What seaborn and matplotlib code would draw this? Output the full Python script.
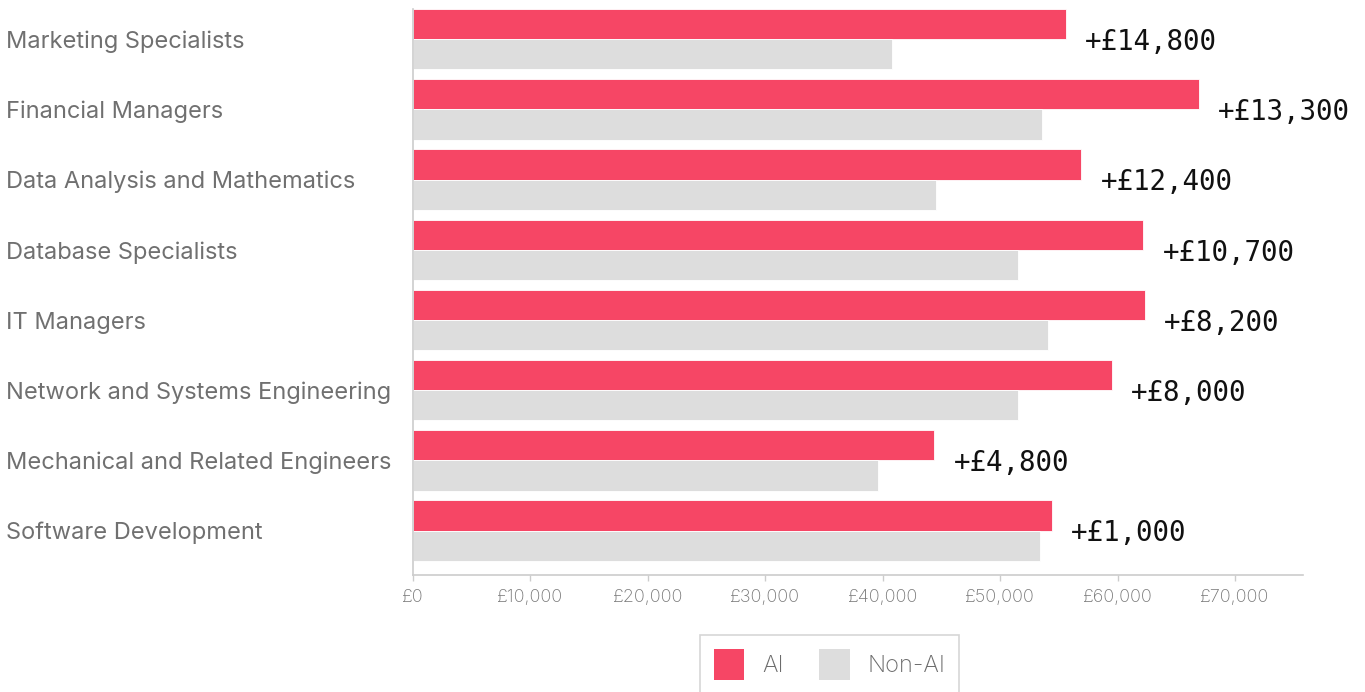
import matplotlib
matplotlib.use("Agg")
import matplotlib.pyplot as plt
import matplotlib.ticker as mticker
from matplotlib.patches import Patch
import seaborn as sns
import pandas as pd

# Average advertised salaries by occupation, AI vs non-AI roles
occupations = [
    "Marketing Specialists",
    "Financial Managers",
    "Data Analysis and Mathematics",
    "Database Specialists",
    "IT Managers",
    "Network and Systems Engineering",
    "Mechanical and Related Engineers",
    "Software Development",
]
ai_salary = [55600, 66900, 56900, 62200, 62300, 59500, 44400, 54400]
non_ai_salary = [40800, 53600, 44500, 51500, 54100, 51500, 39600, 53400]
premium_labels = ["+£14,800", "+£13,300", "+£12,400", "+£10,700",
                  "+£8,200", "+£8,000", "+£4,800", "+£1,000"]
x_ticks = [0, 10000, 20000, 30000, 40000, 50000, 60000, 70000]
series = ["AI", "Non-AI"]
colors = {"AI": "#F64665", "Non-AI": "#DDDDDD"}

df = pd.DataFrame({
    "Occupation": occupations * 2,
    "Salary": ai_salary + non_ai_salary,
    "Type": ["AI"] * len(occupations) + ["Non-AI"] * len(occupations),
})

sns.set_theme(style="white")
plt.rcParams["font.family"] = ["Inter", "DejaVu Sans"]

fig = plt.figure(figsize=(13.65, 6.92), dpi=100)
ax = fig.add_axes([0.3026, 0.169, 0.6520, 0.818])

sns.barplot(data=df, y="Occupation", x="Salary", hue="Type",
            order=occupations, hue_order=series, palette=colors,
            width=0.86, orient="h", ax=ax, legend=False,
            saturation=1, linewidth=0, errorbar=None)

for b in ax.patches:
    b.set_edgecolor("white")
    b.set_linewidth(0.6)

ax.set_xlim(0, 75800)
ax.set_ylim(7.633, -0.43)
ax.set_xlabel("")
ax.set_ylabel("")

ax.xaxis.set_major_locator(mticker.FixedLocator(x_ticks))
ax.xaxis.set_major_formatter(mticker.FuncFormatter(lambda v, p: f"£{int(v):,}"))
ax.tick_params(axis="x", bottom=True, length=4, width=1, color="#cccccc",
               labelsize=13, labelcolor="#777777", pad=6)
ax.tick_params(axis="y", left=False, labelsize=17, labelcolor="#707070", pad=287)
for lab in ax.get_yticklabels():
    lab.set_ha("left")
    lab.set_fontweight("normal")
for lab in ax.get_xticklabels():
    lab.set_fontweight("light")

for side in ["top", "right"]:
    ax.spines[side].set_visible(False)
for side in ["left", "bottom"]:
    ax.spines[side].set_color("#cccccc")
    ax.spines[side].set_linewidth(1.2)

# Salary premium annotations next to each AI bar
for i, (val, txt) in enumerate(zip(ai_salary, premium_labels)):
    ax.annotate(txt, xy=(val, i), xytext=(14, -2), textcoords="offset points",
                ha="left", va="center", fontsize=19.8,
                family="DejaVu Sans Mono", color="#111111")

handles = [Patch(facecolor=colors[s], edgecolor="none", label=s) for s in series]
leg = fig.legend(handles=handles, loc="upper center",
                 bbox_to_anchor=(0.6077, 0.0824), ncol=2, frameon=True,
                 fancybox=False, fontsize=17, handlelength=1.3,
                 handleheight=1.65, handletextpad=0.75, columnspacing=1.5,
                 borderpad=0.6, borderaxespad=0, labelcolor="#6b6b6b")
leg.get_frame().set_edgecolor("#cccccc")
leg.get_frame().set_linewidth(1.2)
for t in leg.get_texts():
    t.set_fontweight("light")

fig.savefig("out.png", dpi=100)
